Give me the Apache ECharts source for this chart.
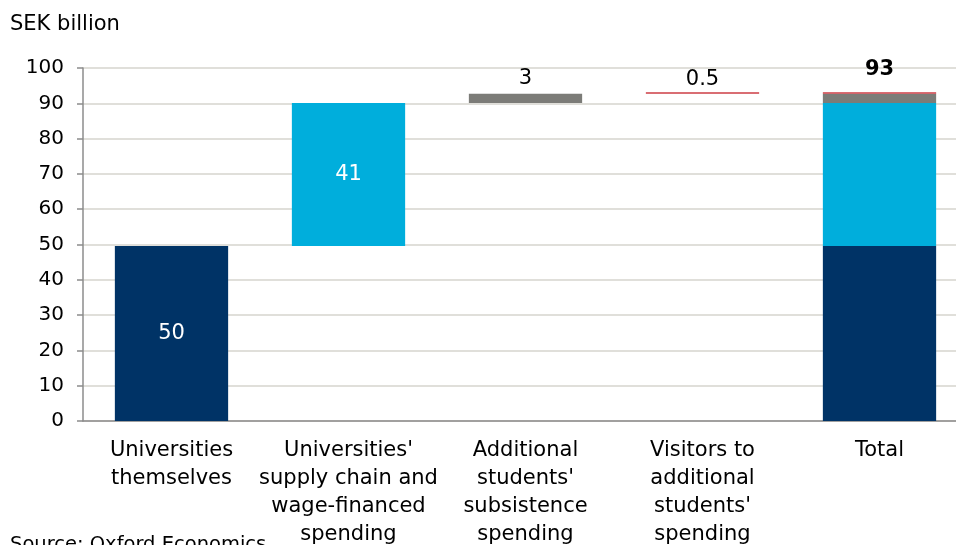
<!DOCTYPE html>
<html><head><meta charset="utf-8">
<script src="https://cdn.jsdelivr.net/npm/echarts@6/dist/echarts.min.js"></script>
<style>html,body{margin:0;padding:0;background:#fff;overflow:hidden}#c{width:956px;height:545px}</style>
</head><body><div id="c"></div>
<script>
var categories = ["Universities\nthemselves", "Universities'\nsupply chain and\nwage-financed\nspending", "Additional\nstudents'\nsubsistence\nspending", "Visitors to\nadditional\nstudents'\nspending", "Total"];
var baseValues = [0, 49.6, 90.1, 92.7, 0];
var universities = [49.6, null, null, null, 49.6];
var supplyChain = [null, 40.5, null, null, 40.5];
var subsistence = [null, null, 2.6, null, 2.6];
var visitors = [null, null, null, 0.4, 0.4];
var labelText = ["50", "41", "3", "0.5", "93"];
var yTicks = {min: 0, max: 100, interval: 10};

var font = "DejaVu Sans, Liberation Sans, Arial, sans-serif";
var chart = echarts.init(document.getElementById('c'));
function mk(name, data, color, labels) {
  return {
    name: name, type: 'bar', stack: 'w', barWidth: '64%', data: data.map(function (v, i) {
      var d = {value: v};
      if (labels && labels[i]) d.label = labels[i];
      return d;
    }),
    itemStyle: {color: color}, silent: true
  };
}
chart.setOption({
  animation: false,
  textStyle: {fontFamily: font},
  grid: {left: 83, top: 68, width: 885, height: 353, containLabel: false, outerBoundsMode: 'none'},
  graphic: [
    {type: 'text', left: 10, top: 14, style: {text: 'SEK billion', font: '21px ' + font, fill: '#000'}},
    {type: 'text', left: 10, top: 535, style: {text: 'Source: Oxford Economics', font: '19.5px ' + font, fill: '#000'}}
  ],
  xAxis: {
    type: 'category', data: categories,
    axisLine: {lineStyle: {color: '#8c8c8c', width: 1.5}},
    axisTick: {show: false},
    axisLabel: {color: '#000', fontSize: 21, lineHeight: 28, margin: 16, interval: 0, fontFamily: font}
  },
  yAxis: {
    type: 'value', min: yTicks.min, max: yTicks.max, interval: yTicks.interval,
    axisLine: {show: true, lineStyle: {color: '#8c8c8c', width: 1.5}},
    axisTick: {show: true, length: 6, lineStyle: {color: '#8c8c8c', width: 1.5}},
    axisLabel: {color: '#000', fontSize: 20, margin: 19, fontFamily: font},
    splitLine: {lineStyle: {color: '#d6d4ce', width: 1.5}}
  },
  series: [
    mk('base', baseValues, 'rgba(0,0,0,0)'),
    mk('Universities themselves', universities, '#003366', [
      {show: true, position: 'inside', color: '#fff', fontSize: 21, formatter: labelText[0]}
    ]),
    mk('Supply chain', supplyChain, '#00aedc', [null,
      {show: true, position: 'inside', color: '#fff', fontSize: 21, formatter: labelText[1]}
    ]),
    mk('Subsistence', subsistence, '#7c7c78', [null, null,
      {show: true, position: 'top', distance: 5, color: '#000', fontSize: 21, formatter: labelText[2]}
    ]),
    mk('Visitors', visitors, '#cc3c44', [null, null, null,
      {show: true, position: 'top', distance: 2, color: '#000', fontSize: 21, formatter: labelText[3]},
      {show: true, position: 'top', distance: 12, color: '#000', fontSize: 21, fontWeight: 'bold', formatter: labelText[4]}
    ])
  ]
});
</script></body></html>
